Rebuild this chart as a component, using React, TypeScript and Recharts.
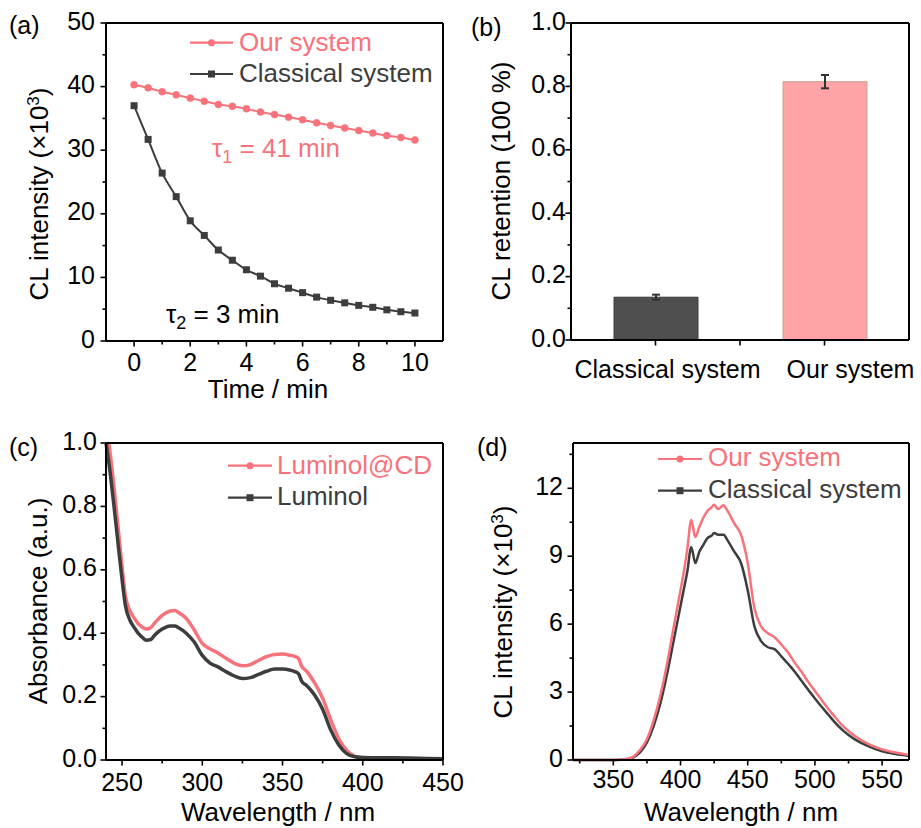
import React from 'react'
import {
  LineChart,
  Line,
  BarChart,
  Bar,
  Cell,
  ErrorBar,
  XAxis,
  YAxis,
  Legend,
} from 'recharts'

const FONT = '"Liberation Sans", Arial, Helvetica, sans-serif'
const PINK = '#f7727a'
const DARK = '#3d3d3d'

// (a) CL intensity decay, x10^3
const decayTime = [0, 0.5, 1, 1.5, 2, 2.5, 3, 3.5, 4, 4.5, 5, 5.5, 6, 6.5, 7, 7.5, 8, 8.5, 9, 9.5, 10]
const decayOur = [40.3, 39.8, 39.2, 38.7, 38.2, 37.7, 37.2, 36.9, 36.5, 36.0, 35.6, 35.2, 34.8, 34.3, 33.9, 33.5, 33.1, 32.7, 32.3, 32.0, 31.6]
const decayClassical = [37.0, 31.7, 26.4, 22.7, 18.9, 16.6, 14.3, 12.7, 11.2, 10.2, 9.0, 8.3, 7.6, 6.9, 6.4, 6.0, 5.6, 5.3, 4.9, 4.6, 4.4]

// (b) CL retention
const retentionLabels = ['Classical system', 'Our system']
const retentionValues = [0.135, 0.815]
const retentionErrors = [0.008, 0.021]

// (c) absorbance
const absWavelength = [240, 242, 245, 248, 250, 252, 255, 258, 260, 263, 265, 268, 270, 275, 280, 283, 285, 290, 295, 300, 305, 310, 315, 320, 325, 330, 335, 340, 345, 350, 355, 358, 360, 362, 365, 370, 375, 380, 385, 390, 395, 400, 410, 420, 430, 440, 450]
const absLuminolCD = [1.05, 0.99, 0.86, 0.71, 0.61, 0.52, 0.47, 0.445, 0.43, 0.418, 0.413, 0.418, 0.43, 0.456, 0.47, 0.472, 0.466, 0.447, 0.41, 0.368, 0.35, 0.337, 0.32, 0.305, 0.297, 0.301, 0.314, 0.326, 0.333, 0.334, 0.33, 0.326, 0.32, 0.295, 0.28, 0.243, 0.195, 0.127, 0.068, 0.03, 0.012, 0.004, 0.003, 0.003, 0.003, 0.003, 0.003]
const absLuminol = [1.0, 0.93, 0.8, 0.66, 0.57, 0.49, 0.44, 0.415, 0.4, 0.385, 0.378, 0.38, 0.392, 0.413, 0.423, 0.423, 0.418, 0.4, 0.372, 0.33, 0.305, 0.293, 0.278, 0.265, 0.257, 0.26, 0.27, 0.28, 0.287, 0.287, 0.283, 0.278, 0.272, 0.248, 0.235, 0.205, 0.16, 0.095, 0.048, 0.02, 0.01, 0.008, 0.007, 0.007, 0.006, 0.005, 0.004]

// (d) CL spectra, x10^3
const clWavelength = [320, 330, 340, 350, 355, 360, 365, 370, 375, 380, 385, 390, 395, 400, 403, 405, 408, 411, 414, 417, 420, 423, 425, 428, 432, 435, 440, 445, 450, 455, 460, 465, 470, 475, 480, 485, 490, 495, 500, 505, 510, 515, 520, 525, 530, 540, 550, 560, 570]
const clOur = [0, 0, 0, 0, 0.01, 0.04, 0.15, 0.45, 0.92, 1.75, 2.85, 4.25, 5.9, 7.5, 8.5, 9.3, 10.6, 9.85, 10.3, 10.7, 11.0, 11.15, 11.27, 11.08, 11.25, 11.0, 10.45, 9.95, 8.7, 6.7, 5.9, 5.6, 5.42, 5.1, 4.75, 4.3, 3.9, 3.45, 3.05, 2.65, 2.25, 1.9, 1.55, 1.28, 1.05, 0.7, 0.47, 0.33, 0.22]
const clClassical = [0, 0, 0, 0, 0.01, 0.03, 0.12, 0.35, 0.78, 1.5, 2.5, 3.8, 5.3, 6.8, 7.7, 8.3, 9.4, 8.7, 9.2, 9.5, 9.8, 9.9, 10.02, 9.95, 9.95, 9.7, 9.2, 8.7, 7.5, 5.9, 5.25, 4.98, 4.9, 4.58, 4.25, 3.9, 3.5, 3.1, 2.72, 2.35, 2.0, 1.65, 1.35, 1.1, 0.9, 0.6, 0.38, 0.26, 0.18]

// tick lists (majors get labels, the rest are minor marks)
const ticksAx = [0, 1, 2, 3, 4, 5, 6, 7, 8, 9, 10]
const majorsAx = [0, 2, 4, 6, 8, 10]
const ticksAy = [0, 5, 10, 15, 20, 25, 30, 35, 40, 45, 50]
const majorsAy = [0, 10, 20, 30, 40, 50]
const ticksBy = [0, 0.1, 0.2, 0.3, 0.4, 0.5, 0.6, 0.7, 0.8, 0.9, 1.0]
const majorsBy = [0, 0.2, 0.4, 0.6, 0.8, 1.0]
const ticksCx = [250, 275, 300, 325, 350, 375, 400, 425, 450]
const majorsCx = [250, 300, 350, 400, 450]
const ticksDx = [325, 350, 375, 400, 425, 450, 475, 500, 525, 550]
const majorsDx = [350, 400, 450, 500, 550]
const ticksDy = [0, 1.5, 3, 4.5, 6, 7.5, 9, 10.5, 12, 13.5]
const majorsDy = [0, 3, 6, 9, 12]

const decayData = decayTime.map((t, i) => ({ t, our: decayOur[i], classical: decayClassical[i] }))
const retentionData = retentionLabels.map((name, i) => ({
  pos: i + 1,
  name,
  value: retentionValues[i],
  err: retentionErrors[i],
}))
const absData = absWavelength.map((w, i) => ({ w, cd: absLuminolCD[i], lum: absLuminol[i] }))
const clData = clWavelength.map((w, i) => ({ w, our: clOur[i], classical: clClassical[i] }))

type TickOpts = {
  side: 'bottom' | 'left'
  ticks: number[]
  majors: number[]
  fmt: (v: number) => string
  gap?: number
  base: number
  shift?: (v: number) => number
  // the domain end: its tick draws the closing edge of the box instead
  edge: number
  edgeLen: number
}

const near = (a: number, b: number) => Math.abs(a - b) < 1e-6

const makeTick = (o: TickOpts) => (props: any) => {
  const { x, y, payload, index } = props
  const v = payload.value as number
  const isEdge = near(v, o.edge)
  const isTick = o.ticks.some((t) => near(t, v))
  const major = o.majors.some((m) => near(m, v))
  const len = major ? 5.5 : 3.5
  const label = major ? o.fmt(v) : ''
  if (o.side === 'bottom') {
    return (
      <g key={`t${index}`}>
        {isEdge && <line x1={x} x2={x} y1={y} y2={y - o.edgeLen} stroke="#000" strokeWidth={2} />}
        {isTick && <line x1={x} x2={x} y1={y} y2={y + len} stroke="#000" strokeWidth={1.6} />}
        <text
          x={x + (o.shift ? o.shift(v) : 0)}
          y={y + o.base}
          textAnchor="middle"
          fontFamily={FONT}
          fontSize={25}
          fill="#000"
        >
          {label}
        </text>
      </g>
    )
  }
  return (
    <g key={`t${index}`}>
      {isEdge && <line x1={x} x2={x + o.edgeLen} y1={y} y2={y} stroke="#000" strokeWidth={2} />}
      {isTick && <line x1={x - len} x2={x} y1={y} y2={y} stroke="#000" strokeWidth={1.6} />}
      <text x={x - (o.gap ?? 10)} y={y + o.base} textAnchor="end" fontFamily={FONT} fontSize={25} fill="#000">
        {label}
      </text>
    </g>
  )
}

type LegendRow = { label: string; color: string; marker: 'circle' | 'square'; lineY: number; textY: number }

const legendContent = (rows: LegendRow[], x0: number, x1: number, tx: number, w: number, h: number) => () => (
  <svg width={w} height={h} style={{ display: 'block' }}>
    {rows.map((r) => (
      <g key={r.label}>
        <line x1={x0} x2={x1} y1={r.lineY} y2={r.lineY} stroke={r.color} strokeWidth={2.2} />
        {r.marker === 'circle' ? (
          <circle cx={(x0 + x1) / 2} cy={r.lineY} r={3.5} fill={r.color} />
        ) : (
          <rect x={(x0 + x1) / 2 - 3.5} y={r.lineY - 3.5} width={7} height={7} fill={r.color} />
        )}
        <text x={tx} y={r.textY} fontFamily={FONT} fontSize={26} fill={r.color}>
          {r.label}
        </text>
      </g>
    ))}
  </svg>
)

const squareDot = (color: string) => (p: any) => (
  <rect key={`d${p.index}`} x={p.cx - 3.5} y={p.cy - 3.5} width={7} height={7} fill={color} />
)

const axisLine = { stroke: '#000', strokeWidth: 2 }
const withEdge = (ticks: number[], edge: number) => (ticks.some((t) => near(t, edge)) ? ticks : [...ticks, edge])

function PanelA() {
  return (
    <LineChart width={460} height={400} data={decayData} margin={{ top: 23, right: 17, bottom: 0, left: 0 }}>
      <XAxis
        dataKey="t"
        type="number"
        domain={[-1, 11]}
        ticks={withEdge(ticksAx, 11)}
        interval={0}
        height={59}
        tickSize={0}
        tickMargin={0}
        tickLine={false}
        axisLine={axisLine}
        tick={makeTick({ side: 'bottom', ticks: ticksAx, majors: majorsAx, fmt: (v) => String(v), base: 30, edge: 11, edgeLen: 318 })}
      />
      <YAxis
        type="number"
        domain={[0, 50]}
        ticks={ticksAy}
        interval={0}
        width={106}
        tickSize={0}
        tickMargin={0}
        tickLine={false}
        axisLine={axisLine}
        tick={makeTick({ side: 'left', ticks: ticksAy, majors: majorsAy, fmt: (v) => String(v), gap: 11, base: 6.5, edge: 50, edgeLen: 337 })}
      />
      <Line
        dataKey="our"
        type="monotone"
        stroke={PINK}
        strokeWidth={2}
        dot={{ r: 3.5, fill: PINK, stroke: PINK, strokeWidth: 0.5 }}
        isAnimationActive={false}
      />
      <Line
        dataKey="classical"
        type="monotone"
        stroke={DARK}
        strokeWidth={2}
        dot={squareDot(DARK)}
        isAnimationActive={false}
      />
      <Legend
        layout="vertical"
        align="center"
        verticalAlign="middle"
        wrapperStyle={{ left: 0, top: 0, width: 460, height: 100 }}
        content={legendContent(
          [
            { label: 'Our system', color: PINK, marker: 'circle', lineY: 42.7, textY: 50.5 },
            { label: 'Classical system', color: DARK, marker: 'square', lineY: 74, textY: 82 },
          ],
          190,
          233,
          239,
          460,
          100,
        )}
      />
    </LineChart>
  )
}

function PanelB() {
  return (
    <BarChart width={461} height={400} data={retentionData} margin={{ top: 23, right: 12, bottom: 0, left: 0 }}>
      <XAxis
        dataKey="pos"
        type="number"
        domain={[0.5, 2.5]}
        ticks={[1, 1.5, 2, 2.5]}
        interval={0}
        height={60}
        tickSize={0}
        tickMargin={0}
        tickLine={false}
        axisLine={axisLine}
        tick={makeTick({
          side: 'bottom',
          ticks: [1, 1.5, 2],
          majors: [1, 1.5, 2],
          fmt: (v) => (Number.isInteger(v) ? retentionLabels[v - 1] : ''),
          base: 38,
          shift: (v) => (v === 1 ? 12 : 26),
          edge: 2.5,
          edgeLen: 317,
        })}
      />
      <YAxis
        type="number"
        domain={[0, 1]}
        ticks={ticksBy}
        interval={0}
        width={111}
        tickSize={0}
        tickMargin={0}
        tickLine={false}
        axisLine={axisLine}
        tick={makeTick({ side: 'left', ticks: ticksBy, majors: majorsBy, fmt: (v) => v.toFixed(1), gap: 5, base: 6.5, edge: 1, edgeLen: 338 })}
      />
      <Bar dataKey="value" barSize={84} isAnimationActive={false}>
        <Cell fill="#4f4f4f" stroke="#3a3a3a" strokeWidth={1} />
        <Cell fill="#ffa3a7" stroke="#c9a28e" strokeWidth={1} />
        <ErrorBar dataKey="err" width={4} stroke="#333" strokeWidth={2} direction="y" />
      </Bar>
    </BarChart>
  )
}

function PanelC() {
  return (
    <LineChart width={480} height={428} data={absData} margin={{ top: 43, right: 37, bottom: 0, left: 0 }}>
      <XAxis
        dataKey="w"
        type="number"
        domain={[240, 450]}
        ticks={ticksCx}
        interval={0}
        height={68}
        tickSize={0}
        tickMargin={0}
        tickLine={false}
        axisLine={axisLine}
        tick={makeTick({ side: 'bottom', ticks: ticksCx, majors: majorsCx, fmt: (v) => String(v), base: 31, edge: 450, edgeLen: 317 })}
      />
      <YAxis
        type="number"
        domain={[0, 1]}
        allowDataOverflow
        ticks={ticksBy}
        interval={0}
        width={106}
        tickSize={0}
        tickMargin={0}
        tickLine={false}
        axisLine={axisLine}
        tick={makeTick({ side: 'left', ticks: ticksBy, majors: majorsBy, fmt: (v) => v.toFixed(1), gap: 9, base: 6.5, edge: 1, edgeLen: 337 })}
      />
      <Line dataKey="cd" type="monotone" stroke={PINK} strokeWidth={3.5} dot={false} isAnimationActive={false} />
      <Line dataKey="lum" type="monotone" stroke={DARK} strokeWidth={3.5} dot={false} isAnimationActive={false} />
      <Legend
        layout="vertical"
        align="center"
        verticalAlign="middle"
        wrapperStyle={{ left: 0, top: 0, width: 460, height: 120 }}
        content={legendContent(
          [
            { label: 'Luminol@CD', color: PINK, marker: 'circle', lineY: 65.7, textY: 73.5 },
            { label: 'Luminol', color: DARK, marker: 'square', lineY: 97.7, textY: 105 },
          ],
          228,
          272,
          277,
          460,
          120,
        )}
      />
    </LineChart>
  )
}

function PanelD() {
  return (
    <LineChart width={461} height={428} data={clData} margin={{ top: 43, right: 12, bottom: 0, left: 0 }}>
      <XAxis
        dataKey="w"
        type="number"
        domain={[320, 570]}
        ticks={withEdge(ticksDx, 570)}
        interval={0}
        height={68}
        tickSize={0}
        tickMargin={0}
        tickLine={false}
        axisLine={axisLine}
        tick={makeTick({ side: 'bottom', ticks: ticksDx, majors: majorsDx, fmt: (v) => String(v), base: 28, edge: 570, edgeLen: 317 })}
      />
      <YAxis
        type="number"
        domain={[0, 14]}
        ticks={withEdge(ticksDy, 14)}
        interval={0}
        width={113}
        tickSize={0}
        tickMargin={0}
        tickLine={false}
        axisLine={axisLine}
        tick={makeTick({ side: 'left', ticks: ticksDy, majors: majorsDy, fmt: (v) => String(v), gap: 10, base: 6.5, edge: 14, edgeLen: 336 })}
      />
      <Line dataKey="classical" type="monotone" stroke={DARK} strokeWidth={2.5} dot={false} isAnimationActive={false} />
      <Line dataKey="our" type="monotone" stroke={PINK} strokeWidth={2.5} dot={false} isAnimationActive={false} />
      <Legend
        layout="vertical"
        align="center"
        verticalAlign="middle"
        wrapperStyle={{ left: 0, top: 0, width: 461, height: 120 }}
        content={legendContent(
          [
            { label: 'Our system', color: PINK, marker: 'circle', lineY: 59, textY: 65.5 },
            { label: 'Classical system', color: DARK, marker: 'square', lineY: 90.7, textY: 98 },
          ],
          198,
          242,
          248,
          461,
          120,
        )}
      />
    </LineChart>
  )
}

const txt = { fontFamily: FONT, fontSize: 26, fill: '#000' }

export default function App() {
  return (
    <div style={{ position: 'absolute', left: 0, top: 0, width: 921, height: 828, background: '#fff', overflow: 'hidden' }}>
      <div style={{ position: 'absolute', left: 0, top: 0 }}>
        <PanelA />
      </div>
      <div style={{ position: 'absolute', left: 460, top: 0 }}>
        <PanelB />
      </div>
      <div style={{ position: 'absolute', left: 460, top: 400 }}>
        <PanelD />
      </div>
      <div style={{ position: 'absolute', left: 0, top: 400 }}>
        <PanelC />
      </div>
      <svg
        width={921}
        height={828}
        style={{ position: 'absolute', left: 0, top: 0, pointerEvents: 'none' }}
      >
        {/* panel letters */}
        <text x={9} y={34} {...txt} fontSize={25}>(a)</text>
        <text x={471} y={36} {...txt} fontSize={25}>(b)</text>
        <text x={9} y={456} {...txt} fontSize={25}>(c)</text>
        <text x={477} y={456} {...txt} fontSize={25}>(d)</text>

        {/* axis titles */}
        <text x={268} y={398} textAnchor="middle" {...txt}>Time / min</text>
        <text transform="translate(48,194) rotate(-90)" textAnchor="middle" {...txt}>
          CL intensity (×10<tspan dy={-9} fontSize={17}>3</tspan><tspan dy={9}>)</tspan>
        </text>
        <text transform="translate(510,181) rotate(-90)" textAnchor="middle" {...txt}>CL retention (100 %)</text>
        <text x={278} y={821} textAnchor="middle" {...txt}>Wavelength / nm</text>
        <text transform="translate(47,601) rotate(-90)" textAnchor="middle" {...txt}>Absorbance (a.u.)</text>
        <text x={741} y={821} textAnchor="middle" {...txt}>Wavelength / nm</text>
        <text transform="translate(512,612) rotate(-90)" textAnchor="middle" {...txt}>
          CL intensity (×10<tspan dy={-9} fontSize={17}>3</tspan><tspan dy={9}>)</tspan>
        </text>

        {/* lifetime annotations */}
        <text x={212} y={157} {...txt} fill={PINK}>
          τ<tspan dy={6} fontSize={18}>1</tspan>
          <tspan dy={-6}> = 41 min</tspan>
        </text>
        <text x={166} y={323} {...txt} fill="#000">
          τ<tspan dy={6} fontSize={18}>2</tspan>
          <tspan dy={-6}> = 3 min</tspan>
        </text>
      </svg>
    </div>
  )
}
